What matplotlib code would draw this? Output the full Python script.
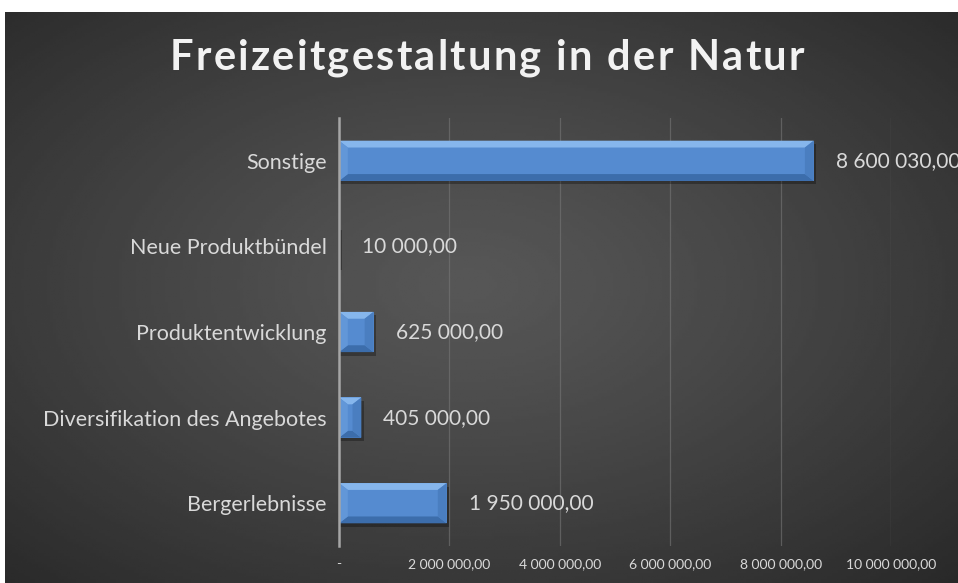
import numpy as np
import matplotlib
matplotlib.use("Agg")
import matplotlib.pyplot as plt
from matplotlib.patches import Rectangle, Polygon

# data (bottom to top)
categories = ["Bergerlebnisse", "Diversifikation des Angebotes", "Produktentwicklung",
              "Neue Produktbündel", "Sonstige"]
values = [1950000, 405000, 625000, 10000, 8600030]
xticks = [0, 2000000, 4000000, 6000000, 8000000, 10000000]
title = "Freizeitgestaltung in der Natur"


def fmt(v):
    if v == 0:
        return "-"
    return "{:,.2f}".format(v).replace(",", " ").replace(".", ",")


plt.rcParams["font.family"] = ["Lato", "DejaVu Sans"]

fig = plt.figure(figsize=(9.58, 5.83), dpi=100, facecolor="white")

# dark radial background (chart area)
bg = fig.add_axes([5 / 958, 0, 953 / 958, 571 / 583])
bg.set_axis_off()
yy, xx = np.mgrid[0:200, 0:330]
cx, cy = 160, 95
r = np.sqrt(((xx - cx) / 330) ** 2 + ((yy - cy) / 200) ** 2)
grad = 0.34 - 0.20 * np.clip(r / 0.8, 0, 1) ** 1.2
bg.imshow(grad, cmap="gray", vmin=0, vmax=1, aspect="auto", extent=[0, 1, 0, 1])
bg.set_xlim(0, 1)
bg.set_ylim(0, 1)

ax = fig.add_axes([339 / 958, 1 - 546 / 583, (891 - 339) / 958, (546 - 118) / 583])
ax.patch.set_alpha(0)
y = np.arange(len(categories))
h = 0.47
ax.set_xlim(0, 10000000)
ax.set_ylim(-0.5, len(categories) - 0.5)

for i, v in enumerate(values):
    # shadow
    ax.add_patch(Rectangle((0, i - h / 2 - 0.04), v + 50000, h, color="black", alpha=0.3, zorder=2, lw=0))
    # bar body
    ax.barh(i, v, height=h, color="#558bd0", zorder=3)
    bev_x = min(160000, v / 2)
    bev_y = h * 0.17
    top = i + h / 2
    bot = i - h / 2
    # top bevel (light)
    ax.add_patch(Polygon([(0, top), (v, top), (v - bev_x, top - bev_y), (bev_x, top - bev_y)],
                         closed=True, color="#86b6ec", zorder=4, lw=0))
    # bottom bevel (dark)
    ax.add_patch(Polygon([(0, bot), (v, bot), (v - bev_x, bot + bev_y), (bev_x, bot + bev_y)],
                         closed=True, color="#3c6dab", zorder=4, lw=0))
    # right bevel
    ax.add_patch(Polygon([(v, top), (v, bot), (v - bev_x, bot + bev_y), (v - bev_x, top - bev_y)],
                         closed=True, color="#4a7ec0", zorder=4, lw=0))
    # left bevel
    ax.add_patch(Polygon([(0, top), (0, bot), (bev_x, bot + bev_y), (bev_x, top - bev_y)],
                         closed=True, color="#6297d8", zorder=4, lw=0))
    ax.text(v + 400000, i, fmt(v), va="center", ha="left", fontsize=15, color="#d9d9d9", zorder=5)

ax.set_yticks(y)
ax.set_yticklabels(categories, fontsize=15.5, color="#d9d9d9")
ax.set_xticks(xticks)
ax.set_xticklabels([fmt(t) for t in xticks], fontsize=10, color="#d9d9d9")
ax.tick_params(axis="y", length=0, pad=9)
ax.tick_params(axis="x", length=0, pad=9)
ax.grid(axis="x", color="#777777", lw=0.9, alpha=0.6, zorder=0)
ax.set_axisbelow(True)
for s in ["top", "right", "bottom"]:
    ax.spines[s].set_visible(False)
ax.spines["left"].set_color("#a6a6a6")
ax.spines["left"].set_linewidth(1.8)
ax.spines["left"].set_zorder(6)

# title with letter spacing: place characters one by one
renderer = fig.canvas.get_renderer()
tkw = dict(fontsize=30, fontweight="bold", color="#f2f2f2", va="center", ha="left")
track = 2.2  # px between letters
widths = []
for ch in title:
    t = fig.text(0, 0, ch if ch != " " else "n", **tkw)
    w = t.get_window_extent(renderer).width
    if ch == " ":
        w *= 0.45
    widths.append(w)
    t.remove()
total = sum(widths) + track * (len(title) - 1)
x0 = 487 - total / 2
for ch, w in zip(title, widths):
    if ch != " ":
        fig.text(x0 / 958, 1 - 58 / 583, ch, **tkw)
    x0 += w + track

fig.savefig("out.png", dpi=100, facecolor="white")
